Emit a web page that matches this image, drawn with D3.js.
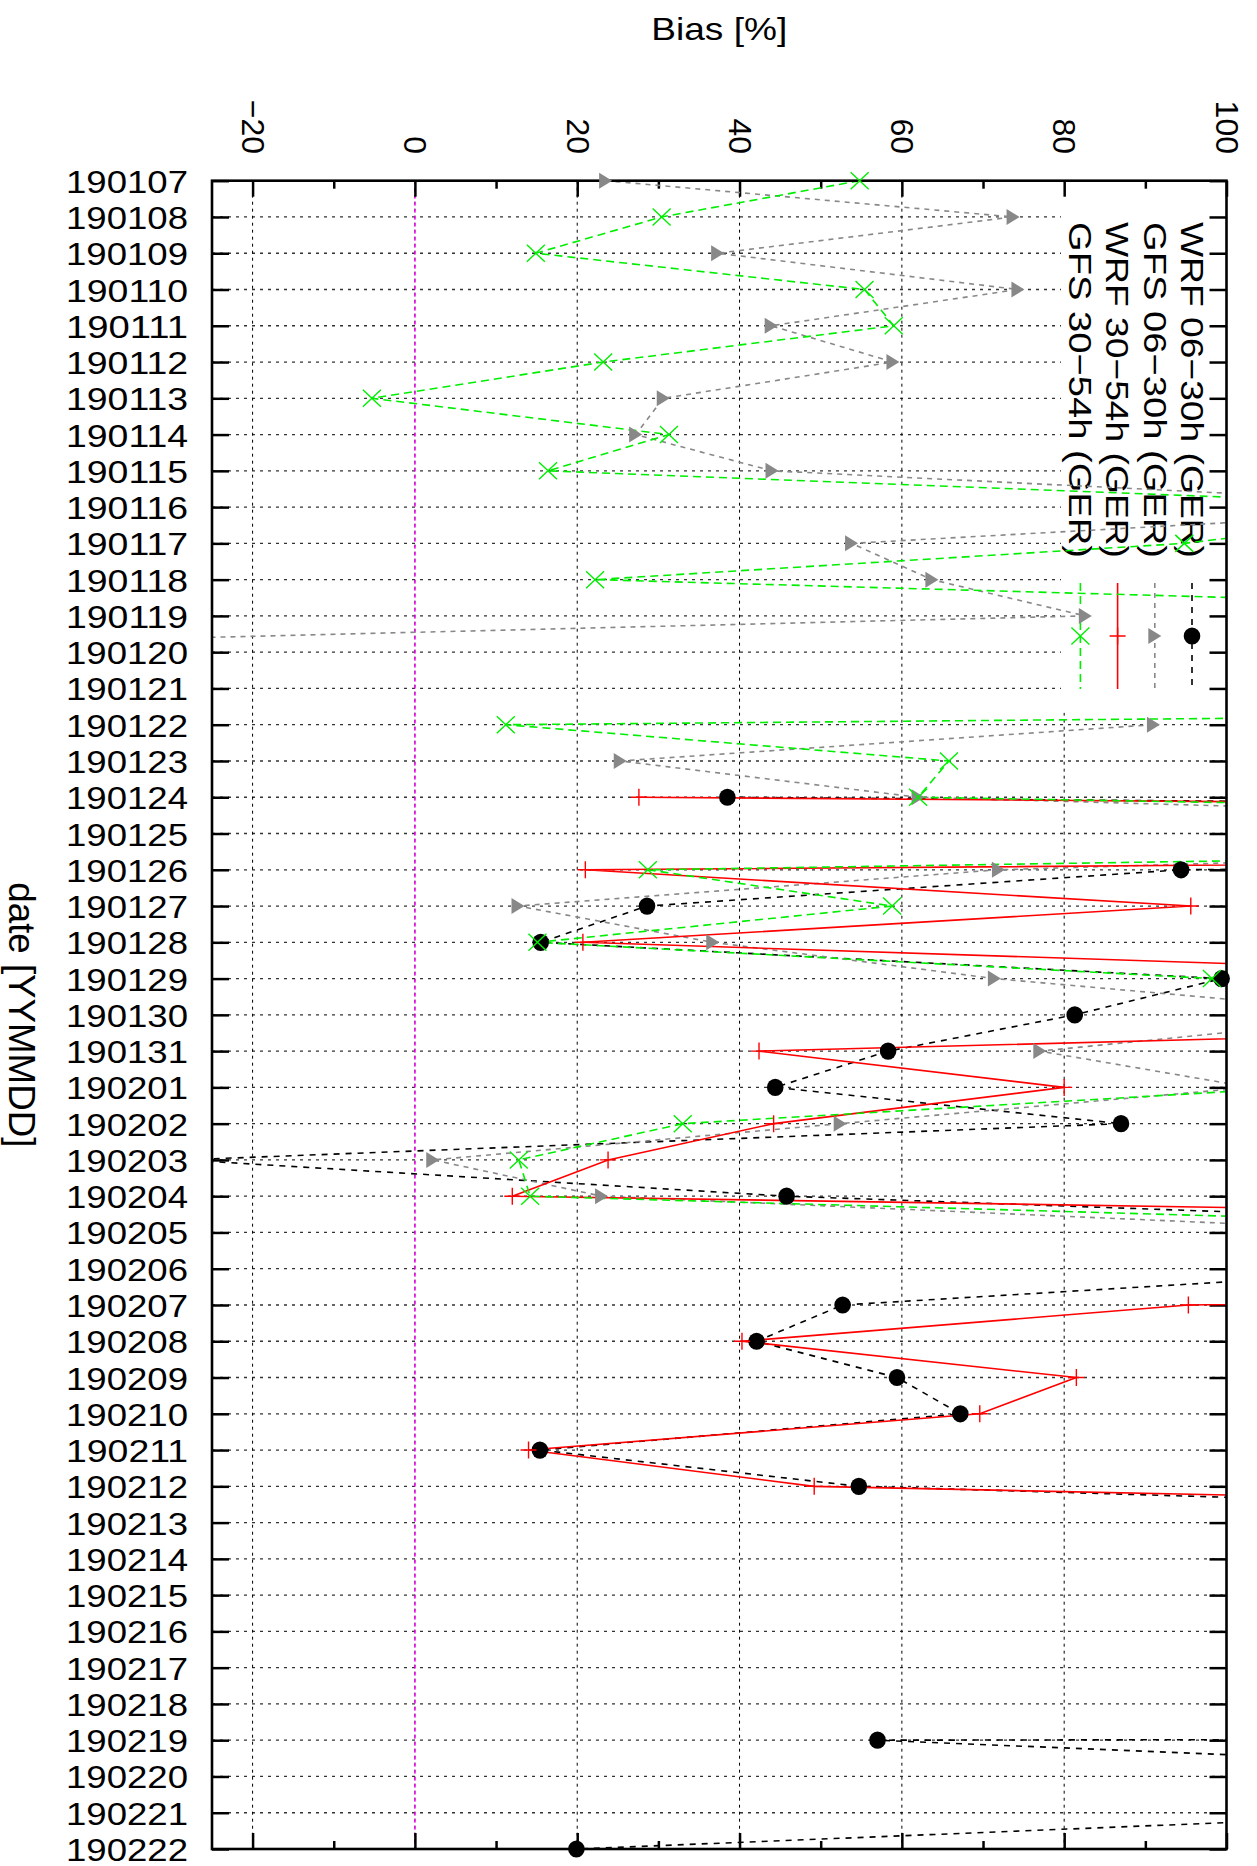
<!DOCTYPE html>
<html><head><meta charset="utf-8">
<script src="https://cdn.jsdelivr.net/npm/d3@7"></script>
<style>
html,body{margin:0;padding:0;background:#fff;}
text{font-family:"Liberation Sans",Arial,Helvetica,sans-serif;fill:#000;}
</style></head><body>
<svg id="chart" width="1257" height="1866"></svg>
<script>
// ---------- data ----------
const dates = ["190107","190108","190109","190110","190111","190112","190113","190114","190115","190116",
  "190117","190118","190119","190120","190121","190122","190123","190124","190125","190126",
  "190127","190128","190129","190130","190131","190201","190202","190203","190204","190205",
  "190206","190207","190208","190209","190210","190211","190212","190213","190214","190215",
  "190216","190217","190218","190219","190220","190221","190222"];

const wrf0630 = [null,null,null,null,null,null,null,null,null,null,
  null,null,null,null,null,null,null,38.5,600,94.4,
  28.6,15.5,99.4,81.3,58.3,44.4,87.0,-28.5,45.8,172,
  127,52.7,42.1,59.4,67.2,15.4,54.7,205,null,null,
  null,null,3000,57.0,165,130,19.9];

const gfs0630 = [23.5,73.7,37.3,74.3,43.9,58.9,30.6,27.2,44.0,135,
  53.8,63.7,82.6,-100,null,91.0,25.3,62.0,220,71.9,
  12.7,36.7,71.4,122,77.0,103,52.4,2.2,23.0,126,
  null,null,null,null,null,null,null,null,null,null,
  null,null,null,null,null,null,null];

const wrf3054 = [null,null,null,null,null,null,null,null,null,null,
  null,null,null,null,null,null,null,27.6,630,21.0,
  95.6,20.7,157,212,42.4,80.0,44.2,23.8,12.0,296,
  450,95.3,40.3,81.5,69.6,14.0,49.2,261,null,null,
  null,null,null,null,null,null,null];

const gfs3054 = [54.8,30.4,14.9,55.4,59.0,23.2,-5.3,31.3,16.4,132,
  94.8,22.2,181,350,519,11.2,65.8,62.0,320,28.7,
  58.8,15.1,98.2,300,300,109,33.0,12.8,14.2,170,
  null,null,null,null,null,null,null,null,null,null,
  null,null,null,null,null,null,null];

const seriesNames = ["WRF 06\u221230h (GER)","GFS 06\u221230h (GER)","WRF 30\u221254h (GER)","GFS 30\u221254h (GER)"];
const majorTicks = [-20,0,20,40,60,80,100];
const minorTicks = [-10,10,30,50,70,90];
const xTitle = "Bias [%]";
const yTitle = "date [YYMMDD]";

// ---------- layout ----------
const PL = 212, PR = 1226.5, PT = 180.7, PB = 1849;
const x = d3.scaleLinear().domain([-25,100]).range([PL,PR]);
const y = d3.scalePoint().domain(dates).range([PT,PB]);
const svg = d3.select("#chart");
const FONT = '"Liberation Sans",Arial,Helvetica,sans-serif';

svg.append("defs").append("clipPath").attr("id","clip")
  .append("rect").attr("x",PL).attr("y",PT).attr("width",PR-PL).attr("height",PB-PT);

// grid
svg.append("g").selectAll("line").data(dates.slice(1,-1)).join("line")
  .attr("x1",PL).attr("x2",PR).attr("y1",d=>y(d)).attr("y2",d=>y(d))
  .attr("stroke","#333").attr("stroke-width",1.3).attr("stroke-dasharray","3,5");
svg.append("g").selectAll("line").data(majorTicks.filter(v=>v<100)).join("line")
  .attr("x1",d=>x(d)).attr("x2",d=>x(d)).attr("y1",PT).attr("y2",PB)
  .attr("stroke","#000").attr("stroke-width",1).attr("stroke-dasharray","3,4");
// zero line
svg.append("line").attr("x1",x(0)).attr("x2",x(0)).attr("y1",PT).attr("y2",PB)
  .attr("stroke","#ff00ff").attr("stroke-width",1.3).attr("stroke-dasharray","4,3");

// key box (opaque)
const keyLeft = 1061, keyBottom = 711;
svg.append("rect").attr("x",keyLeft).attr("y",PT+1.5).attr("width",PR-keyLeft-1.5).attr("height",keyBottom-PT)
  .attr("fill","#fff");

// styles
const styles = [
  {data:wrf0630, color:"#000000", dash:"6,6", width:1.6, mark:"circle"},
  {data:gfs0630, color:"#888888", dash:"5,5", width:1.6, mark:"triangle"},
  {data:wrf3054, color:"#ff0000", dash:null, width:1.6, mark:"plus"},
  {data:gfs3054, color:"#00ee00", dash:"8,5", width:1.6, mark:"cross"}
];

function drawMark(g, mark, color, cx, cy){
  if(mark==="circle"){
    g.append("ellipse").attr("cx",cx).attr("cy",cy).attr("rx",8.3).attr("ry",8.6).attr("fill",color);
  } else if(mark==="triangle"){
    g.append("path").attr("d",`M${cx-6.5},${cy-8}L${cx+6.5},${cy}L${cx-6.5},${cy+8}Z`).attr("fill",color);
  } else if(mark==="plus"){
    g.append("path").attr("d",`M${cx-8},${cy}H${cx+8}M${cx},${cy-8.5}V${cy+8.5}`)
      .attr("stroke",color).attr("stroke-width",1.4).attr("fill","none");
  } else {
    g.append("path").attr("d",`M${cx-9},${cy-8.5}L${cx+9},${cy+8.5}M${cx-9},${cy+8.5}L${cx+9},${cy-8.5}`)
      .attr("stroke",color).attr("stroke-width",1.4).attr("fill","none");
  }
}

// key
const keyG = svg.append("g");
seriesNames.forEach((name,i)=>{
  const kx = 1192 - 37.2*i;
  keyG.append("text").attr("transform",`translate(${kx},222) rotate(90)`)
    .attr("text-anchor","start").attr("dy","0.35em")
    .attr("font-size",32).attr("font-family",FONT)
    .attr("textLength",336).attr("lengthAdjust","spacingAndGlyphs").text(name);
  const s = styles[i];
  keyG.append("line").attr("x1",kx).attr("x2",kx).attr("y1",583).attr("y2",689)
    .attr("stroke",s.color).attr("stroke-width",s.width).attr("stroke-dasharray",s.dash);
  drawMark(keyG, s.mark, s.color, kx, 636);
});

// axes
function styleAxis(g){ g.select(".domain").remove(); g.selectAll(".tick line").attr("stroke","#000").attr("stroke-width",2.5); }

const axLeft = svg.append("g").attr("transform",`translate(${PL},0)`)
  .call(d3.axisLeft(y).tickSizeInner(-17).tickSizeOuter(0).tickPadding(24));
styleAxis(axLeft);
axLeft.selectAll("text").attr("font-size",32).attr("font-family",FONT).attr("fill","#000")
  .attr("dy","0.36em").attr("textLength",122).attr("lengthAdjust","spacingAndGlyphs");

const axRight = svg.append("g").attr("transform",`translate(${PR},0)`)
  .call(d3.axisRight(y).tickSizeInner(-17).tickSizeOuter(0).tickFormat(""));
styleAxis(axRight);

const axTop = svg.append("g").attr("transform",`translate(0,${PT})`)
  .call(d3.axisTop(x).tickValues(majorTicks).tickSizeInner(-16).tickSizeOuter(0)
    .tickFormat(d => d<0 ? "\u2212"+Math.abs(d) : String(d)));
styleAxis(axTop);
axTop.selectAll("text").attr("font-size",32).attr("font-family",FONT).attr("fill","#000")
  .attr("x",0).attr("y",0).attr("dy","0.35em").attr("text-anchor","end")
  .attr("transform",`translate(0,${154-PT}) rotate(90)`);
const axTopMinor = svg.append("g").attr("transform",`translate(0,${PT})`)
  .call(d3.axisTop(x).tickValues(minorTicks).tickSizeInner(-8).tickSizeOuter(0).tickFormat(""));
styleAxis(axTopMinor);

const axBottom = svg.append("g").attr("transform",`translate(0,${PB})`)
  .call(d3.axisBottom(x).tickValues(majorTicks).tickSizeInner(-16).tickSizeOuter(0).tickFormat(""));
styleAxis(axBottom);
const axBottomMinor = svg.append("g").attr("transform",`translate(0,${PB})`)
  .call(d3.axisBottom(x).tickValues(minorTicks).tickSizeInner(-8).tickSizeOuter(0).tickFormat(""));
styleAxis(axBottomMinor);

// titles
svg.append("text").attr("x",(PL+PR)/2).attr("y",40).attr("text-anchor","middle")
  .attr("font-size",32).attr("font-family",FONT)
  .attr("textLength",136).attr("lengthAdjust","spacingAndGlyphs").text(xTitle);
svg.append("text").attr("transform",`translate(8.5,${(PT+PB)/2}) rotate(90)`).attr("text-anchor","middle")
  .attr("font-size",36).attr("font-family",FONT)
  .attr("textLength",265).attr("lengthAdjust","spacingAndGlyphs").text(yTitle);

// data lines
const lineGen = d3.line().defined(d => d.v !== null).x(d => x(d.v)).y(d => y(d.date));
const linesG = svg.append("g").attr("clip-path","url(#clip)");
styles.forEach(s=>{
  const pts = dates.map((d,i)=>({date:d, v:s.data[i]}));
  linesG.append("path").datum(pts).attr("d",lineGen).attr("fill","none")
    .attr("stroke",s.color).attr("stroke-width",s.width).attr("stroke-dasharray",s.dash);
});

// border
svg.append("rect").attr("x",PL).attr("y",PT).attr("width",PR-PL).attr("height",PB-PT)
  .attr("fill","none").attr("stroke","#000").attr("stroke-width",2.6);

// points
const ptsG = svg.append("g");
styles.forEach(s=>{
  dates.forEach((d,i)=>{
    const v = s.data[i];
    if(v !== null && v >= -25 && v <= 100) drawMark(ptsG, s.mark, s.color, x(v), y(d));
  });
});
</script>
</body></html>
